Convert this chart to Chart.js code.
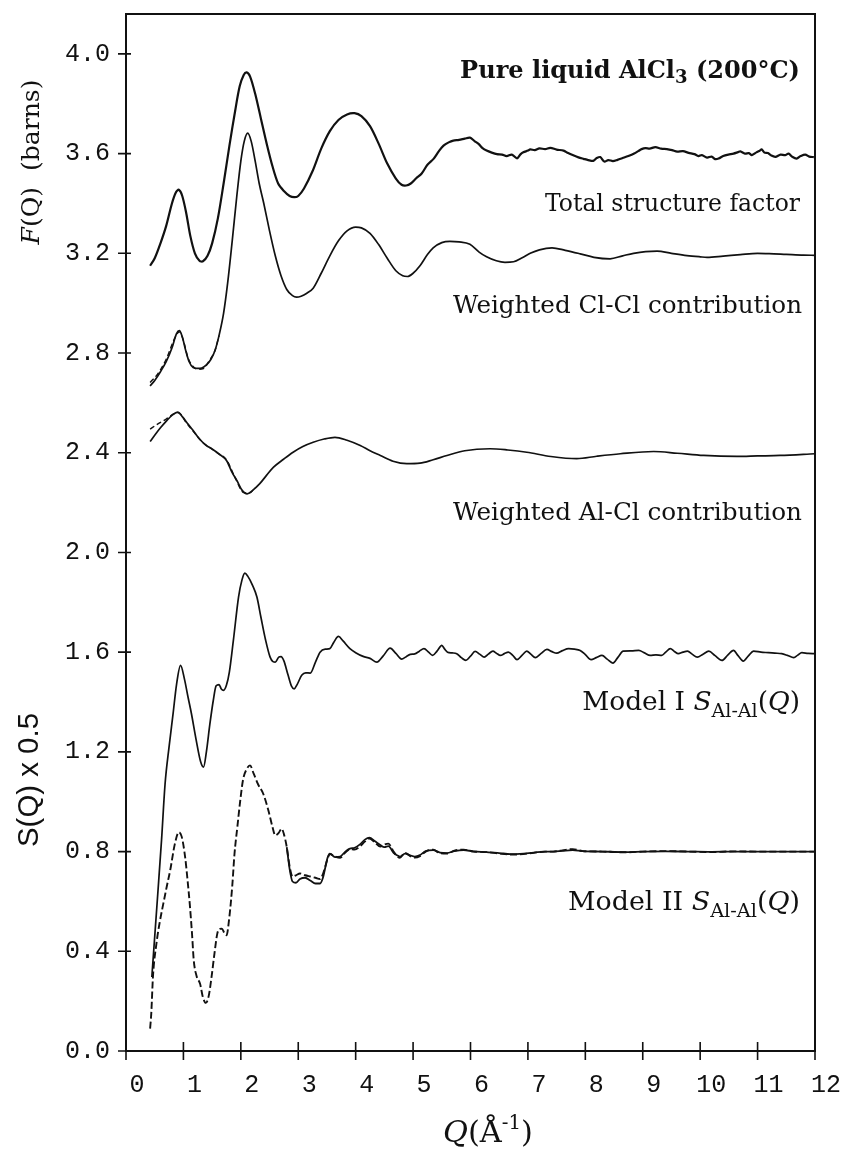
<!DOCTYPE html>
<html>
<head>
<meta charset="utf-8">
<script src="https://cdn.jsdelivr.net/npm/chart.js@4.4.0/dist/chart.umd.min.js"></script>
<style>
  html, body { margin: 0; padding: 0; background: #fff; }
  canvas { display: block; }
</style>
</head>
<body>
<canvas id="chart" width="844" height="1150"></canvas>
<script>
// tick labels
const xTicks = [0, 1, 2, 3, 4, 5, 6, 7, 8, 9, 10, 11, 12];
const yTicks = [0.0, 0.4, 0.8, 1.2, 1.6, 2.0, 2.4, 2.8, 3.2, 3.6, 4.0];

// Total structure factor (measured, offset ~3.6)
const totalQ = [0.42, 0.50, 0.60, 0.70, 0.80, 0.87, 0.92, 0.98, 1.05, 1.12, 1.20, 1.28, 1.34, 1.42, 1.50, 1.60, 1.70, 1.80, 1.90, 1.98,
  2.05, 2.10, 2.16, 2.25, 2.35, 2.45, 2.55, 2.65, 2.75, 2.85, 2.93, 3.00, 3.10, 3.25, 3.40, 3.55, 3.70, 3.85, 3.98, 4.10,
  4.25, 4.40, 4.55, 4.70, 4.80, 4.88, 4.96, 5.05, 5.15, 5.25, 5.36, 5.45, 5.53, 5.62, 5.70, 5.80, 5.90, 5.99, 6.07, 6.14,
  6.21, 6.28, 6.37, 6.46, 6.55, 6.63, 6.72, 6.81, 6.87, 6.92, 7.00, 7.04, 7.12, 7.20, 7.30, 7.39, 7.50, 7.62, 7.70, 7.79,
  7.88, 7.97, 8.05, 8.14, 8.20, 8.26, 8.33, 8.40, 8.48, 8.56, 8.65, 8.75, 8.85, 8.93, 8.98, 9.05, 9.12, 9.22, 9.32, 9.42,
  9.51, 9.60, 9.70, 9.80, 9.90, 9.97, 10.03, 10.12, 10.20, 10.26, 10.32, 10.40, 10.49, 10.58, 10.66, 10.70, 10.78, 10.85, 10.90, 10.98,
  11.04, 11.07, 11.12, 11.18, 11.24, 11.31, 11.40, 11.48, 11.54, 11.60, 11.68, 11.75, 11.83, 11.90, 11.98];
const totalF = [3.150, 3.180, 3.240, 3.310, 3.400, 3.445, 3.455, 3.430, 3.360, 3.270, 3.200, 3.170, 3.168, 3.190, 3.240, 3.340, 3.480, 3.630, 3.770, 3.870,
  3.915, 3.926, 3.910, 3.840, 3.740, 3.640, 3.550, 3.480, 3.450, 3.430, 3.425, 3.430, 3.460, 3.530, 3.620, 3.690, 3.735, 3.757, 3.762, 3.750,
  3.710, 3.640, 3.560, 3.500, 3.475, 3.472, 3.480, 3.500, 3.520, 3.555, 3.580, 3.610, 3.632, 3.645, 3.652, 3.655, 3.660, 3.664, 3.650, 3.639,
  3.622, 3.612, 3.604, 3.598, 3.596, 3.590, 3.596, 3.581, 3.597, 3.605, 3.612, 3.617, 3.614, 3.621, 3.618, 3.623, 3.616, 3.612, 3.602, 3.593,
  3.585, 3.579, 3.574, 3.571, 3.582, 3.586, 3.568, 3.574, 3.570, 3.575, 3.582, 3.590, 3.600, 3.611, 3.618, 3.622, 3.620, 3.626, 3.620, 3.618,
  3.614, 3.608, 3.610, 3.603, 3.598, 3.590, 3.594, 3.584, 3.588, 3.578, 3.580, 3.590, 3.596, 3.600, 3.606, 3.609, 3.600, 3.602, 3.594, 3.605,
  3.612, 3.617, 3.604, 3.602, 3.592, 3.587, 3.596, 3.594, 3.600, 3.588, 3.580, 3.590, 3.596, 3.588, 3.586];

// Weighted Cl-Cl contribution (offset 3.2)
const clclQ = [0.42, 0.50, 0.60, 0.70, 0.80, 0.88, 0.93, 0.98, 1.04, 1.10, 1.17, 1.25, 1.32, 1.40, 1.48, 1.55, 1.62, 1.70, 1.77, 1.85,
  1.93, 2.00, 2.06, 2.12, 2.18, 2.25, 2.32, 2.40, 2.50, 2.60, 2.70, 2.80, 2.90, 2.97, 3.05, 3.15, 3.26, 3.40, 3.55, 3.70,
  3.85, 4.00, 4.10, 4.25, 4.40, 4.55, 4.70, 4.82, 4.90, 5.00, 5.12, 5.25, 5.35, 5.50, 5.64, 5.80, 5.99, 6.15, 6.28, 6.45,
  6.60, 6.75, 6.90, 7.04, 7.20, 7.42, 7.65, 7.91, 8.15, 8.43, 8.65, 8.84, 9.05, 9.25, 9.50, 9.77, 10.00, 10.12, 10.40, 10.70,
  11.00, 11.20, 11.50, 11.80, 12.00];
const clclF = [2.668, 2.690, 2.725, 2.765, 2.820, 2.878, 2.890, 2.865, 2.810, 2.765, 2.742, 2.738, 2.740, 2.752, 2.775, 2.810, 2.870, 2.960, 3.080, 3.250,
  3.430, 3.570, 3.650, 3.682, 3.650, 3.570, 3.480, 3.400, 3.290, 3.190, 3.110, 3.055, 3.030, 3.024, 3.028, 3.040, 3.060, 3.120, 3.190, 3.250,
  3.290, 3.305, 3.302, 3.280, 3.235, 3.180, 3.130, 3.110, 3.107, 3.120, 3.150, 3.195, 3.222, 3.243, 3.248, 3.246, 3.236, 3.205, 3.186, 3.170,
  3.164, 3.166, 3.182, 3.200, 3.214, 3.222, 3.212, 3.198, 3.184, 3.178, 3.190, 3.200, 3.207, 3.209, 3.200, 3.191, 3.186, 3.184, 3.189, 3.195,
  3.200, 3.199, 3.196, 3.193, 3.192];
const clclFitQ = [0.42, 0.55, 0.70, 0.85, 0.93, 1.00, 1.08, 1.16, 1.25, 1.35, 1.45, 1.55, 1.62];
const clclFit = [2.682, 2.715, 2.775, 2.860, 2.885, 2.850, 2.780, 2.748, 2.735, 2.738, 2.770, 2.810, 2.870];

// Weighted Al-Cl contribution (offset 2.4)
const alclQ = [0.42, 0.50, 0.60, 0.71, 0.80, 0.90, 0.98, 1.08, 1.17, 1.28, 1.40, 1.50, 1.62, 1.75, 1.85, 1.93, 2.02, 2.11, 2.20, 2.33,
  2.45, 2.57, 2.75, 2.91, 3.08, 3.26, 3.45, 3.64, 3.85, 4.08, 4.25, 4.43, 4.65, 4.89, 5.12, 5.35, 5.59, 5.90, 6.34, 6.65,
  6.98, 7.40, 7.85, 8.20, 8.61, 9.19, 9.60, 10.06, 10.64, 11.00, 11.39, 12.00];
const alclF = [2.445, 2.470, 2.500, 2.529, 2.550, 2.563, 2.545, 2.515, 2.489, 2.455, 2.429, 2.415, 2.395, 2.369, 2.320, 2.289, 2.250, 2.235, 2.248, 2.276,
  2.310, 2.342, 2.375, 2.402, 2.425, 2.442, 2.455, 2.462, 2.450, 2.429, 2.408, 2.389, 2.366, 2.356, 2.358, 2.372, 2.389, 2.408, 2.416, 2.411,
  2.402, 2.385, 2.376, 2.386, 2.396, 2.405, 2.398, 2.389, 2.385, 2.387, 2.389, 2.396];
const alclFitQ = [0.42, 0.55, 0.70, 0.85, 0.92, 1.05, 1.20, 1.35, 1.45, 1.60, 1.75, 1.90, 2.05, 2.15, 2.25];
const alclFit = [2.495, 2.515, 2.535, 2.558, 2.560, 2.520, 2.478, 2.438, 2.422, 2.398, 2.372, 2.300, 2.240, 2.238, 2.260];

// Model I S_Al-Al(Q) x 0.5 (offset 1.6)
const model1Q = [0.45, 0.55, 0.62, 0.68, 0.75, 0.82, 0.88, 0.95, 1.02, 1.08, 1.14, 1.22, 1.30, 1.35, 1.40, 1.46, 1.52, 1.57, 1.62, 1.66,
  1.70, 1.75, 1.80, 1.87, 1.96, 2.02, 2.07, 2.12, 2.20, 2.28, 2.35, 2.43, 2.51, 2.56, 2.60, 2.66, 2.70, 2.75, 2.82, 2.88,
  2.93, 2.98, 3.06, 3.13, 3.21, 3.30, 3.38, 3.47, 3.55, 3.62, 3.70, 3.78, 3.90, 4.00, 4.13, 4.25, 4.37, 4.48, 4.60, 4.70,
  4.80, 4.88, 4.95, 5.03, 5.11, 5.19, 5.27, 5.34, 5.42, 5.50, 5.55, 5.60, 5.68, 5.76, 5.84, 5.92, 6.00, 6.08, 6.16, 6.24,
  6.31, 6.39, 6.45, 6.52, 6.59, 6.66, 6.74, 6.81, 6.90, 6.98, 7.05, 7.13, 7.23, 7.33, 7.42, 7.50, 7.60, 7.71, 7.81, 7.91,
  8.00, 8.10, 8.19, 8.29, 8.38, 8.48, 8.57, 8.66, 8.80, 8.93, 9.03, 9.13, 9.23, 9.33, 9.40, 9.48, 9.55, 9.62, 9.70, 9.78,
  9.86, 9.95, 10.05, 10.15, 10.26, 10.38, 10.48, 10.58, 10.66, 10.75, 10.84, 10.93, 11.06, 11.19, 11.30, 11.42, 11.52, 11.63, 11.70, 11.77,
  11.88, 12.00];
const model1S = [0.297, 0.620, 0.850, 1.070, 1.220, 1.353, 1.470, 1.547, 1.490, 1.420, 1.353, 1.250, 1.160, 1.139, 1.200, 1.310, 1.406, 1.465, 1.470, 1.452,
  1.447, 1.468, 1.520, 1.647, 1.821, 1.890, 1.917, 1.905, 1.870, 1.821, 1.740, 1.650, 1.580, 1.562, 1.560, 1.580, 1.582, 1.565, 1.510, 1.465,
  1.453, 1.470, 1.507, 1.517, 1.516, 1.560, 1.600, 1.612, 1.614, 1.640, 1.663, 1.645, 1.614, 1.598, 1.583, 1.575, 1.560, 1.585, 1.616, 1.595,
  1.572, 1.582, 1.591, 1.593, 1.604, 1.614, 1.600, 1.587, 1.605, 1.627, 1.612, 1.600, 1.597, 1.594, 1.578, 1.567, 1.584, 1.603, 1.592, 1.580,
  1.592, 1.604, 1.596, 1.587, 1.594, 1.600, 1.586, 1.570, 1.588, 1.604, 1.592, 1.578, 1.595, 1.611, 1.602, 1.596, 1.606, 1.614, 1.612, 1.607,
  1.590, 1.570, 1.578, 1.587, 1.572, 1.556, 1.580, 1.604, 1.605, 1.607, 1.597, 1.587, 1.589, 1.587, 1.600, 1.614, 1.603, 1.594, 1.600, 1.604,
  1.592, 1.580, 1.592, 1.604, 1.586, 1.567, 1.588, 1.607, 1.586, 1.564, 1.585, 1.604, 1.600, 1.598, 1.596, 1.594, 1.587, 1.578, 1.588, 1.598,
  1.595, 1.594];

// Model II S_Al-Al(Q) x 0.5 (offset 0.8): dashed trace over the full range
const model2Q = [0.42, 0.44, 0.47, 0.53, 0.59, 0.65, 0.71, 0.77, 0.85, 0.92, 0.97, 1.03, 1.07, 1.11, 1.15, 1.18, 1.23, 1.29, 1.34, 1.39,
  1.44, 1.49, 1.54, 1.59, 1.63, 1.67, 1.71, 1.75, 1.80, 1.85, 1.89, 1.94, 1.99, 2.04, 2.10, 2.16, 2.22, 2.30, 2.39, 2.48,
  2.55, 2.60, 2.66, 2.71, 2.75, 2.80, 2.85, 2.90, 2.96, 3.03, 3.12, 3.21, 3.30, 3.38, 3.43, 3.47, 3.51, 3.55, 3.64, 3.73,
  3.82, 3.90, 3.98, 4.08, 4.16, 4.24, 4.33, 4.43, 4.50, 4.57, 4.66, 4.72, 4.77, 4.86, 4.95, 5.03, 5.12, 5.22, 5.35, 5.47,
  5.59, 5.72, 5.88, 6.05, 6.28, 6.50, 6.70, 6.86, 7.10, 7.30, 7.44, 7.60, 7.78, 7.95, 8.30, 8.70, 9.00, 9.40, 9.80, 10.20,
  10.60, 11.00, 11.50, 12.00];
const model2Dash = [0.090, 0.150, 0.300, 0.431, 0.520, 0.591, 0.660, 0.725, 0.830, 0.878, 0.860, 0.778, 0.690, 0.591, 0.470, 0.364, 0.300, 0.270, 0.215, 0.193,
  0.220, 0.297, 0.390, 0.471, 0.490, 0.491, 0.475, 0.464, 0.537, 0.660, 0.792, 0.900, 1.005, 1.090, 1.130, 1.146, 1.115, 1.070, 1.032, 0.965,
  0.900, 0.865, 0.875, 0.892, 0.870, 0.818, 0.740, 0.700, 0.705, 0.712, 0.705, 0.700, 0.695, 0.690, 0.710, 0.740, 0.770, 0.790, 0.780, 0.775,
  0.796, 0.810, 0.808, 0.822, 0.840, 0.852, 0.838, 0.820, 0.828, 0.832, 0.800, 0.782, 0.775, 0.795, 0.782, 0.776, 0.782, 0.800, 0.808, 0.793,
  0.792, 0.804, 0.808, 0.800, 0.798, 0.792, 0.788, 0.789, 0.795, 0.800, 0.800, 0.805, 0.810, 0.802, 0.800, 0.797, 0.800, 0.802, 0.800, 0.798,
  0.801, 0.800, 0.800, 0.800];
// solid trace only shows from Q ~2.8 on
const model2SolidQ = [2.80, 2.85, 2.90, 2.96, 3.03, 3.12, 3.21, 3.30, 3.38, 3.43, 3.47, 3.51, 3.55, 3.64, 3.73, 3.82, 3.90, 3.98, 4.08, 4.16,
  4.24, 4.33, 4.43, 4.50, 4.57, 4.66, 4.72, 4.77, 4.86, 4.95, 5.03, 5.12, 5.22, 5.35, 5.47, 5.59, 5.72, 5.88, 6.05, 6.28,
  6.50, 6.70, 6.86, 7.10, 7.30, 7.44, 7.60, 7.78, 7.95, 8.30, 8.70, 9.00, 9.40, 9.80, 10.20, 10.60, 11.00, 11.50, 12.00];
const model2Solid = [0.818, 0.730, 0.680, 0.675, 0.690, 0.695, 0.684, 0.672, 0.672, 0.695, 0.735, 0.775, 0.792, 0.778, 0.780, 0.800, 0.812, 0.815, 0.830, 0.848,
  0.856, 0.842, 0.826, 0.818, 0.822, 0.795, 0.785, 0.780, 0.792, 0.785, 0.780, 0.786, 0.802, 0.806, 0.796, 0.794, 0.802, 0.806, 0.801, 0.798,
  0.794, 0.790, 0.791, 0.796, 0.800, 0.800, 0.803, 0.806, 0.802, 0.800, 0.798, 0.800, 0.801, 0.800, 0.799, 0.800, 0.800, 0.800, 0.800];

const ink = '#111';
const pts = (qs, vs) => qs.map((q, i) => ({ x: q, y: vs[i] }));

function line(data, width, dash, smooth) {
  return {
    data: data,
    showLine: true,
    borderColor: ink,
    borderWidth: width,
    borderDash: dash || [],
    pointRadius: 0,
    cubicInterpolationMode: smooth ? 'default' : 'monotone',
    tension: smooth || 0
  };
}

// text helpers: a label is a list of runs, fitted to a target width
function fontOf(r, size) {
  const style = r.i ? 'italic ' : '';
  const weight = r.b ? 'bold ' : '';
  return style + weight + (size * (r.s || 1)).toFixed(2) + 'px ' + (r.f || '"DejaVu Serif"');
}
function runsWidth(ctx, runs, size) {
  let w = 0;
  runs.forEach(r => { ctx.font = fontOf(r, size); w += ctx.measureText(r.t).width; });
  return w;
}
function drawRuns(ctx, runs, x, y, targetW, align) {
  const size = 100 * targetW / runsWidth(ctx, runs, 100);
  const w = runsWidth(ctx, runs, size);
  let cx = align === 'right' ? x - w : x - w / 2;
  ctx.textAlign = 'left';
  ctx.textBaseline = 'alphabetic';
  runs.forEach(r => {
    ctx.font = fontOf(r, size);
    ctx.fillText(r.t, cx, y + (r.dy || 0) * size);
    cx += ctx.measureText(r.t).width;
  });
}

const overlay = {
  id: 'overlay',
  afterDraw(chart) {
    const { ctx, chartArea: a, scales } = chart;
    const xs = scales.x, ys = scales.y;
    ctx.save();
    ctx.strokeStyle = ink;
    ctx.fillStyle = ink;

    // frame
    ctx.lineWidth = 2;
    ctx.strokeRect(a.left, a.top, a.right - a.left, a.bottom - a.top);

    // ticks cross the axis lines
    ctx.lineWidth = 1.6;
    ctx.beginPath();
    xTicks.forEach(v => {
      const px = xs.getPixelForValue(v);
      ctx.moveTo(px, a.bottom - 9);
      ctx.lineTo(px, a.bottom + 9);
    });
    yTicks.forEach(v => {
      const py = ys.getPixelForValue(v);
      ctx.moveTo(a.left - 8, py);
      ctx.lineTo(a.left + 5, py);
    });
    ctx.stroke();

    // curve labels
    drawRuns(ctx, [{ t: 'Pure liquid AlCl', b: 1 }, { t: '3', b: 1, s: 0.75, dy: 0.22 }, { t: ' (200°C)', b: 1 }], 800, 78, 340, 'right');
    drawRuns(ctx, [{ t: 'Total structure factor' }], 800, 211, 255, 'right');
    drawRuns(ctx, [{ t: 'Weighted Cl-Cl contribution' }], 802, 313, 349, 'right');
    drawRuns(ctx, [{ t: 'Weighted Al-Cl contribution' }], 802, 520, 349, 'right');
    const sAlAl = [{ t: 'S', i: 1 }, { t: 'Al-Al', s: 0.72, dy: 0.26 }, { t: '(' }, { t: 'Q', i: 1 }, { t: ')' }];
    drawRuns(ctx, [{ t: 'Model I ' }].concat(sAlAl), 800, 710, 218, 'right');
    drawRuns(ctx, [{ t: 'Model II ' }].concat(sAlAl), 800, 910, 232, 'right');

    // x axis title
    drawRuns(ctx, [{ t: 'Q', i: 1 }, { t: '(Å' }, { t: '-1', s: 0.65, dy: -0.42 }, { t: ')' }], 488, 1142, 90, 'center');

    // y axis titles (rotated)
    ctx.save();
    ctx.translate(39, 162);
    ctx.rotate(-Math.PI / 2);
    drawRuns(ctx, [{ t: 'F', i: 1 }, { t: '(Q)  (barns)' }], 0, 0, 165, 'center');
    ctx.restore();

    ctx.save();
    ctx.translate(38, 780);
    ctx.rotate(-Math.PI / 2);
    drawRuns(ctx, [{ t: 'S(Q) x 0.5', f: '"Liberation Sans"' }], 0, 0, 134, 'center');
    ctx.restore();

    ctx.restore();
  }
};

new Chart(document.getElementById('chart'), {
  type: 'scatter',
  data: {
    datasets: [
      line(pts(totalQ, totalF), 2.2, null, 0.3),
      line(pts(clclQ, clclF), 1.7),
      line(pts(clclFitQ, clclFit), 1.4, [5, 3]),
      line(pts(alclQ, alclF), 1.7),
      line(pts(alclFitQ, alclFit), 1.4, [5, 3]),
      line(pts(model1Q, model1S), 1.7),
      line(pts(model2SolidQ, model2Solid), 1.8),
      line(pts(model2Q, model2Dash), 1.9, [7, 3])
    ]
  },
  options: {
    responsive: false,
    animation: false,
    devicePixelRatio: 1,
    layout: { padding: { top: 14, right: 29, left: 0, bottom: 0 } },
    plugins: {
      legend: { display: false },
      tooltip: { enabled: false }
    },
    scales: {
      x: {
        type: 'linear',
        min: 0,
        max: 12,
        grid: { display: false },
        border: { display: false },
        afterBuildTicks: s => { s.ticks = xTicks.map(v => ({ value: v })); },
        afterFit: s => { s.height = 99; s.paddingLeft = 0; s.paddingRight = 0; },
        ticks: {
          color: ink,
          font: { family: '"Liberation Mono"', size: 25 },
          padding: 11,
          labelOffset: 11,
          maxRotation: 0,
          autoSkip: false,
          callback: v => String(v)
        }
      },
      y: {
        type: 'linear',
        min: 0,
        max: 4.16,
        grid: { display: false },
        border: { display: false },
        afterBuildTicks: s => { s.ticks = yTicks.map(v => ({ value: v })); },
        afterFit: s => { s.width = 126; s.paddingTop = 0; s.paddingBottom = 0; },
        ticks: {
          color: ink,
          font: { family: '"Liberation Mono"', size: 25 },
          padding: 8,
          callback: v => v.toFixed(1)
        }
      }
    }
  },
  plugins: [overlay]
});
</script>
</body>
</html>
